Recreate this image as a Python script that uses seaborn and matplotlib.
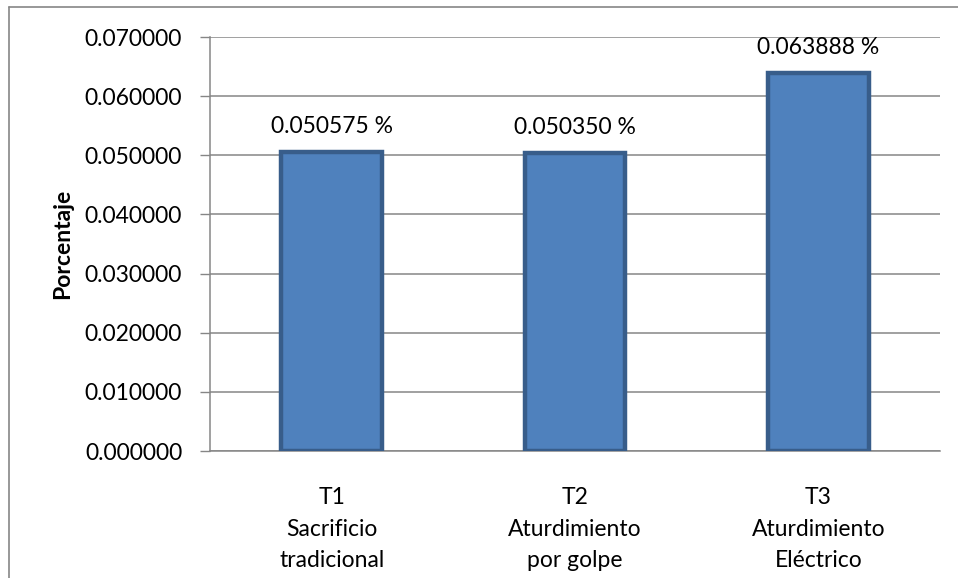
import matplotlib
matplotlib.use("Agg")
import matplotlib.pyplot as plt
import seaborn as sns
import pandas as pd
from matplotlib.lines import Line2D

categories = ["T1\nSacrificio\ntradicional", "T2\nAturdimiento\npor golpe", "T3\nAturdimiento\nEléctrico"]
values = [0.050575, 0.050350, 0.063888]
yticks = [0.0, 0.01, 0.02, 0.03, 0.04, 0.05, 0.06, 0.07]

df = pd.DataFrame({"Tratamiento": categories, "Porcentaje": values})

sns.set_theme(style="white")
plt.rcParams["font.family"] = ["Lato", "DejaVu Sans"]

FS = 16.5

fig = plt.figure(figsize=(9.58, 5.78), dpi=100)
ax = fig.add_axes([210 / 958, 1 - 451 / 578, 730 / 958, 414 / 578])

sns.barplot(data=df, x="Tratamiento", y="Porcentaje", ax=ax, color="#4F81BD",
            saturation=1, width=0.415, edgecolor="#385D8A", linewidth=3.2, zorder=3)

ax.set_ylim(0, 0.07)
ax.set_yticks(yticks)
ax.set_yticklabels([f"{t:.6f}" for t in yticks], fontsize=FS, color="black")
ax.set_xlim(-0.5, 2.5)
ax.tick_params(axis="x", length=0, pad=26, labelsize=FS, labelcolor="black")
ax.tick_params(axis="y", length=7, width=1, color="#868686", direction="out", pad=13, left=True)
for lbl in ax.get_xticklabels():
    lbl.set_linespacing(1.62)

ax.yaxis.grid(True, color="#868686", linewidth=1.1, zorder=0)
ax.set_axisbelow(True)
for side in ["top", "right"]:
    ax.spines[side].set_visible(False)
for side in ["left", "bottom"]:
    ax.spines[side].set_color("#868686")
    ax.spines[side].set_linewidth(1.1)

ax.set_xlabel("")
ax.set_ylabel("Porcentaje", fontsize=FS, fontweight="bold", color="black", labelpad=8)

for i, v in enumerate(values):
    ax.annotate(f"{v:.6f} %", (i, v), xytext=(0, 11), textcoords="offset points",
                ha="center", va="bottom", fontsize=FS, color="black")

# chart frame
fig.add_artist(Line2D([9 / 958, 9 / 958], [0, 1 - 7 / 578], color="#868686", lw=1.2))
fig.add_artist(Line2D([9 / 958, 1], [1 - 7 / 578, 1 - 7 / 578], color="#868686", lw=1.2))

fig.savefig("out.png", dpi=100, facecolor="white")
